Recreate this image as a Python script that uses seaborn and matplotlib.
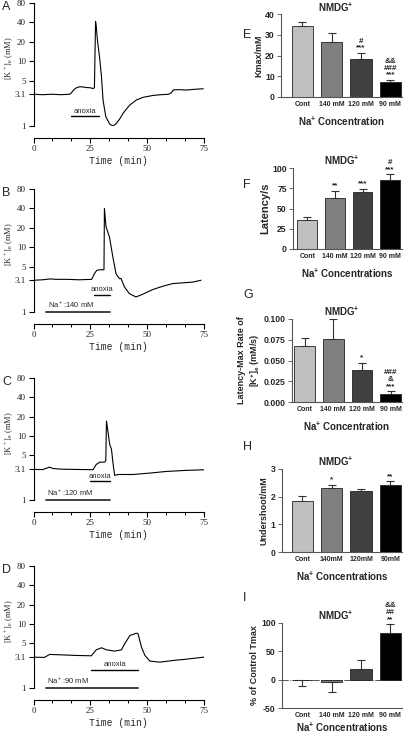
import numpy as np
import pandas as pd
import matplotlib
matplotlib.use('Agg')
import matplotlib.pyplot as plt
import seaborn as sns

# ---------------------------------------------------------------
# data: extracellular K+ traces (time in min, [K+]e in mM)
# ---------------------------------------------------------------
tA = [0, 4, 8, 12, 16, 16.8, 17.6, 18.6, 19.6, 21, 23, 25, 26.2, 26.8, 27.3, 27.6, 28.1,
      29.1, 29.9, 30.6, 31.8, 33.5, 35, 36.5, 38, 39.4, 41, 42.4, 45.3, 48.2, 52.6, 56,
      59.5, 60.7, 61.5, 64, 67.4, 71, 74.7]
kA = [3.1, 3.05, 3.1, 3.05, 3.1, 3.3, 3.6, 3.85, 4.0, 4.05, 3.95, 3.9, 3.8, 3.9, 41.5, 35,
      21.6, 11.2, 5.8, 2.5, 1.4, 1.07, 1.0, 1.1, 1.3, 1.57, 1.85, 2.12, 2.53, 2.78, 2.97,
      3.05, 3.1, 3.29, 3.62, 3.65, 3.6, 3.7, 3.77]

tB = [0, 4, 7.3, 10, 15, 20, 25.6, 26.8, 27.8, 29, 31.0, 31.2, 31.9, 33.4, 34.9, 36.3,
      37.8, 38.5, 40, 42.2, 45.1, 48, 52.4, 56.8, 61.2, 67.1, 70, 73.7]
kB = [3.1, 3.15, 3.25, 3.2, 3.2, 3.15, 3.2, 3.93, 4.4, 4.5, 4.5, 40, 20.8, 14.6, 7.1, 3.9,
      3.28, 3.3, 2.44, 1.92, 1.71, 1.88, 2.22, 2.5, 2.75, 2.85, 2.9, 3.1]

tC = [0, 4, 7.1, 8.5, 12, 18, 26.2, 27.6, 29.1, 31.3, 31.8, 32.1, 32.8, 33.5, 34.3, 35,
      35.7, 37.2, 43.8, 51.2, 58.5, 67.4, 75]
kC = [3.0, 2.98, 3.26, 3.1, 3.03, 3.0, 2.97, 3.58, 3.89, 3.9, 4.1, 17, 11.3, 7.4, 6.2,
      3.66, 2.42, 2.5, 2.5, 2.63, 2.79, 2.9, 2.96]

tD = [0, 4.8, 7.1, 11, 18.8, 25.4, 27.6, 29.9, 32.1, 35.7, 38.7, 40.1, 42.4, 45.3, 46,
      47.5, 49, 51.2, 55.6, 61.5, 67.4, 75]
kD = [3.03, 3.0, 3.34, 3.3, 3.22, 3.18, 3.94, 4.24, 3.94, 3.76, 3.94, 4.89, 6.59, 7.16,
      7.0, 4.34, 3.22, 2.63, 2.53, 2.69, 2.82, 3.03]

anoxia_on = [16.3, 26.4, 25.0, 25.4]
anoxia_off = [28.7, 33.7, 33.5, 46.0]
anoxia_y = [1.43, 1.86, 1.96, 1.93]
na_on = [None, 5.6, 5.3, 5.3]
na_off = [None, 33.7, 33.5, 46.0]
na_text = [None, 'Na$^+$:140 mM', 'Na$^+$:120 mM', 'Na$^+$:90 mM']

k_ticks = [1, 3.1, 5, 10, 20, 40, 80]
time_ticks = [0, 25, 50, 75]

# ---------------------------------------------------------------
# data: bar panels (mean, error, significance marks)
# ---------------------------------------------------------------
groups = ['Cont', '140 mM', '120 mM', '90 mM']
groups_nospace = ['Cont', '140mM', '120mM', '90mM']
bar_colors = ['#c0c0c0', '#808080', '#404040', '#000000']

kmax = [34.2, 26.7, 18.3, 7.0]
kmax_err = [1.8, 4.0, 3.0, 1.3]
kmax_marks = ['', '', '#\n***', '&&\n###\n***']

latency = [35.8, 63.5, 69.8, 85.4]
latency_err = [3.8, 8.5, 4.3, 6.6]
latency_marks = ['', '**', '***', '#\n***']

rate = [0.068, 0.076, 0.038, 0.0093]
rate_err = [0.0094, 0.0234, 0.0093, 0.0036]
rate_marks = ['', '', '*', '###\n&\n***']

undershoot = [1.86, 2.30, 2.21, 2.42]
undershoot_err = [0.16, 0.12, 0.08, 0.13]
undershoot_marks = ['', '*', '', '**']

tmax = [0, -3.5, 18.5, 82.5]
tmax_err = [10.3, 19.0, 16.8, 15.3]
tmax_marks = ['', '', '', '&&\n##\n**']

# ---------------------------------------------------------------
sns.set_theme(style='ticks')
plt.rcParams['font.family'] = ['Liberation Sans', 'DejaVu Sans']
plt.rcParams['mathtext.fontset'] = 'custom'
plt.rcParams['mathtext.rm'] = 'Liberation Sans'
plt.rcParams['mathtext.bf'] = 'Liberation Sans:bold'
plt.rcParams['mathtext.default'] = 'regular'

W, H = 410, 733
fig = plt.figure(figsize=(W / 100, H / 100), dpi=100)


def px_axes(l, t, r, b):
    return fig.add_axes([l / W, 1 - b / H, (r - l) / W, (b - t) / H])


serif = 'Liberation Serif'
mono = 'Liberation Mono'


def trace_panel(ax, t, k, i):
    # move the x spine first: set_position resets the tick objects
    for s in ['top', 'right']:
        ax.spines[s].set_visible(False)
    ax.spines['bottom'].set_position(('outward', 8.5))
    for s in ['left', 'bottom']:
        ax.spines[s].set_color('black')
        ax.spines[s].set_linewidth(0.8)

    sns.lineplot(x=t, y=k, ax=ax, color='black', linewidth=0.8,
                 estimator=None, sort=False)
    ax.set_yscale('log')
    ax.set_ylim(1, 80)
    ax.set_xlim(0, 75)
    ax.set_yticks(k_ticks)
    ax.set_yticklabels([str(v) for v in k_ticks])
    ax.yaxis.set_minor_locator(matplotlib.ticker.NullLocator())
    ax.set_xticks(time_ticks)
    ax.set_xticklabels([str(v) for v in time_ticks])
    ax.set_xticks(np.arange(0, 76, 25 / 3), minor=True)
    ax.tick_params(axis='both', which='major', length=3.5, width=0.8, pad=2,
                   color='black', labelsize=6.5, labelfontfamily=serif)
    ax.tick_params(axis='x', which='minor', length=2, width=0.7, color='black')
    ax.set_xlabel('Time (min)', fontfamily=mono, fontsize=7, labelpad=2)
    ax.set_ylabel('[K$^+$]$_e$ (mM)', fontfamily=serif, fontsize=6)
    ax.yaxis.set_label_coords(-0.1, 0.55)
    # anoxia bar
    ax.plot([anoxia_on[i], anoxia_off[i]], [anoxia_y[i]] * 2, color='black', lw=1.0,
            clip_on=False)
    ax.annotate('anoxia', ((anoxia_on[i] + anoxia_off[i]) / 2, anoxia_y[i]),
                xytext=(0, 1), textcoords='offset points', ha='center', va='bottom',
                fontsize=5.5)
    if na_on[i] is not None:
        ax.plot([na_on[i], na_off[i]], [1, 1], color='#333333', lw=1.3, clip_on=False)
        ax.annotate(na_text[i], (na_on[i], 1), xytext=(1, 1.5),
                    textcoords='offset points', ha='left', va='bottom', fontsize=5.5)


left_boxes = [(33.5, 3, 204, 126), (33.5, 189, 204, 312),
              (33.5, 378, 204, 500), (33.5, 566, 204, 688)]
traces = [(tA, kA), (tB, kB), (tC, kC), (tD, kD)]
for i, (box, (t, k), letter) in enumerate(zip(left_boxes, traces, 'ABCD')):
    ax = px_axes(*box)
    trace_panel(ax, t, k, i)
    fig.text(2 / W, 1 - (box[1] + 4) / H, letter, fontsize=9, ha='left', va='center')


def bar_panel(ax, vals, errs, marks, ylim, yticks, yticklabels, ylabel, xlabel,
              ticklabels, xlim, title_pad=2, ylabel_size=6.5, xlabel_pad=5):
    df = pd.DataFrame({'group': groups, 'value': vals})
    sns.barplot(data=df, x='group', y='value', hue='group', palette=bar_colors,
                width=0.72, edgecolor='#222222', linewidth=0.6, legend=False,
                errorbar=None, ax=ax)
    lower = [e if v <= 0 else 0 for v, e in zip(vals, errs)]
    upper = [0 if v <= 0 else e for v, e in zip(vals, errs)]
    ax.errorbar(range(len(vals)), vals, yerr=[lower, upper], fmt='none',
                ecolor='#333333', elinewidth=0.8, capsize=3, capthick=0.8)
    for j, (v, e, m) in enumerate(zip(vals, errs, marks)):
        if m:
            ax.annotate(m, (j, v + e), xytext=(0, 1), textcoords='offset points',
                        ha='center', va='bottom', fontsize=5.8, fontweight='bold',
                        linespacing=0.95, annotation_clip=False)
    ax.set_ylim(*ylim)
    ax.set_xlim(*xlim)
    ax.set_yticks(yticks)
    ax.set_yticklabels(yticklabels, fontsize=6.2, fontweight='bold')
    ax.set_xticks(range(len(groups)))
    ax.set_xticklabels(ticklabels, fontsize=5, fontweight='bold')
    ax.tick_params(axis='y', length=3, width=0.7, pad=1.5, color='#666666')
    ax.tick_params(axis='x', length=0, pad=3)
    for s in ['top', 'right']:
        ax.spines[s].set_visible(False)
    for s in ['left', 'bottom']:
        ax.spines[s].set_color('#555555')
        ax.spines[s].set_linewidth(0.8)
    ax.set_xlabel(xlabel, fontsize=7, fontweight='bold', labelpad=xlabel_pad)
    ax.set_ylabel(ylabel, fontsize=ylabel_size, fontweight='bold', labelpad=1.5)
    ax.set_title('NMDG$^{\\mathbf{+}}$', fontsize=7, fontweight='bold', pad=title_pad, x=0.45)


na_label = 'Na$^{\\mathbf{+}}$ Concentration'
na_labels = 'Na$^{\\mathbf{+}}$ Concentrations'

axE = px_axes(281, 14, 402, 97)
bar_panel(axE, kmax, kmax_err, kmax_marks, (0, 40), [0, 10, 20, 30, 40],
          ['0', '10', '20', '30', '40'], 'Kmax/mM', na_label, groups,
          (-0.73, 3.4), title_pad=1.5)

axF = px_axes(293, 168, 402, 249)
bar_panel(axF, latency, latency_err, latency_marks, (0, 100), [0, 25, 50, 75, 100],
          ['0', '25', '50', '75', '100'], 'Latency/s', na_labels, groups,
          (-0.52, 3.43), ylabel_size=8)

axG = px_axes(292, 319, 402, 402)
bar_panel(axG, rate, rate_err, rate_marks, (0, 0.1), [0, 0.025, 0.05, 0.075, 0.1],
          ['0.000', '0.025', '0.050', '0.075', '0.100'],
          'Latency-Max Rate of\n[K$^{\\mathbf{+}}$]$_{\\mathbf{e}}$ (mM/s)', na_label, groups,
          (-0.44, 3.4))

axH = px_axes(282, 469, 402, 552)
bar_panel(axH, undershoot, undershoot_err, undershoot_marks, (0, 3), [0, 1, 2, 3],
          ['0', '1', '2', '3'], 'Undershoot/mM', na_labels, groups_nospace,
          (-0.7, 3.4))

axI = px_axes(282, 623, 402, 708)
axI.axhline(0, color='#555555', lw=0.7, ls='-.', zorder=0)
bar_panel(axI, tmax, tmax_err, tmax_marks, (-50, 100), [-50, 0, 50, 100],
          ['-50', '0', '50', '100'], '% of Control Tmax', na_labels, groups,
          (-0.7, 3.4), xlabel_pad=1)

for letter, y in zip('EFGHI', [35, 185, 295, 447, 598]):
    fig.text(243 / W, 1 - y / H, letter, fontsize=9, ha='left', va='center')

fig.savefig('out.png', dpi=100)
